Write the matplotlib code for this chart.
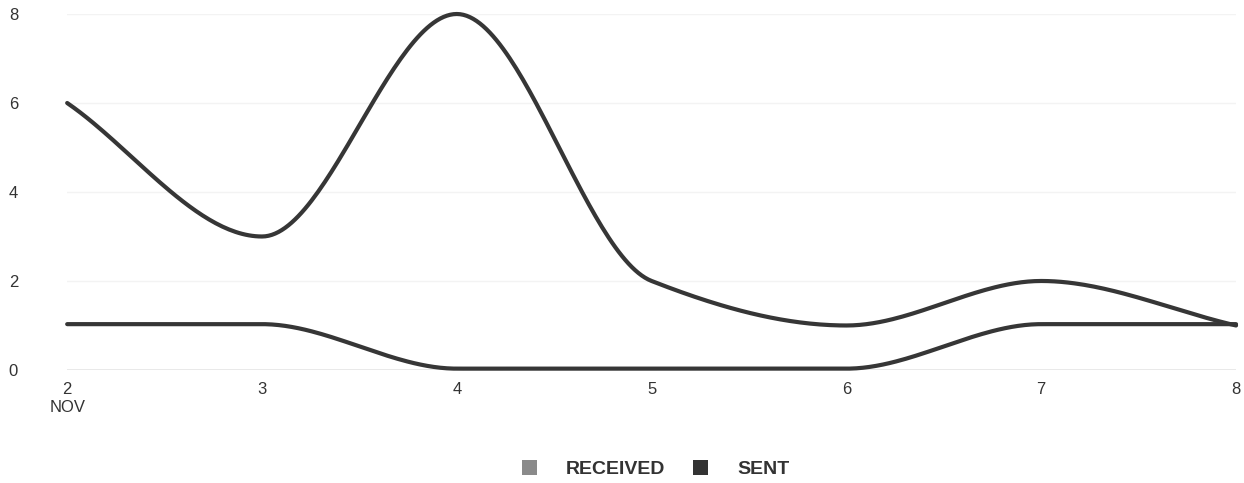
import numpy as np
import matplotlib.pyplot as plt
from matplotlib.patches import Patch

plt.rcParams['font.family'] = ['Liberation Sans', 'DejaVu Sans']

# data
days = [2, 3, 4, 5, 6, 7, 8]
day_labels = ['2\nNOV', '3', '4', '5', '6', '7', '8']
received = [6, 3, 8, 2, 1, 2, 1]
sent = [1, 1, 0, 0, 0, 1, 1]
y_ticks = [0, 2, 4, 6, 8]


# monotone cubic curve (like d3 curveMonotoneX)
def monotone(x, y, n=60):
    x = np.asarray(x, float)
    y = np.asarray(y, float)
    h = np.diff(x)
    d = np.diff(y) / h
    m = np.zeros(len(x))
    for i in range(1, len(x) - 1):
        if d[i - 1] * d[i] > 0:
            w1 = 2 * h[i] + h[i - 1]
            w2 = h[i] + 2 * h[i - 1]
            m[i] = (w1 + w2) / (w1 / d[i - 1] + w2 / d[i])
    m[0] = d[0]
    m[-1] = d[-1]
    xs, ys = [], []
    for i in range(len(x) - 1):
        t = np.linspace(0, 1, n)
        h00 = 2 * t**3 - 3 * t**2 + 1
        h10 = t**3 - 2 * t**2 + t
        h01 = -2 * t**3 + 3 * t**2
        h11 = t**3 - t**2
        xs.append(x[i] + t * h[i])
        ys.append(h00 * y[i] + h10 * h[i] * m[i] + h01 * y[i + 1] + h11 * h[i] * m[i + 1])
    return np.concatenate(xs), np.concatenate(ys)


fig = plt.figure(figsize=(12.44, 4.83), dpi=100)
ax = fig.add_axes([0.054, 0.234, 0.9396, 0.737])

for yt in y_ticks:
    ax.axhline(yt, color='#f3f3f3', lw=1, zorder=0)
ax.axhline(0, color='#e6e6e6', lw=1.2, zorder=0)

line_col = '#363636'
xr, yr = monotone(days, received)
ax.plot(xr, yr, color=line_col, lw=3, clip_on=False, solid_capstyle='round')
xs, ys = monotone(days, sent)
ax.plot(xs, ys + 0.03, color=line_col, lw=3, clip_on=False, solid_capstyle='round')

ax.set_xlim(2, 8)
ax.set_ylim(0, 8)
ax.set_xticks(days)
ax.set_xticklabels(day_labels, fontsize=12, color='#333333', linespacing=1.2)
ax.set_yticks(y_ticks)
ax.set_yticklabels([str(v) for v in y_ticks], fontsize=12, color='#333333', ha='left')
ax.tick_params(axis='y', length=0, pad=42)
ax.tick_params(axis='x', length=0, pad=9)
for s in ax.spines.values():
    s.set_visible(False)

handles = [Patch(facecolor='#8a8a8a', edgecolor='none', label='RECEIVED'),
           Patch(facecolor='#333333', edgecolor='none', label='SENT')]
fig.legend(handles=handles, loc='center', bbox_to_anchor=(0.527, 0.029), ncol=2,
           frameon=False, prop={'weight': 'bold', 'size': 14},
           handlelength=0.78, handleheight=0.78, handletextpad=1.5, columnspacing=1.4,
           labelcolor='#333333')

plt.savefig('out.png')
